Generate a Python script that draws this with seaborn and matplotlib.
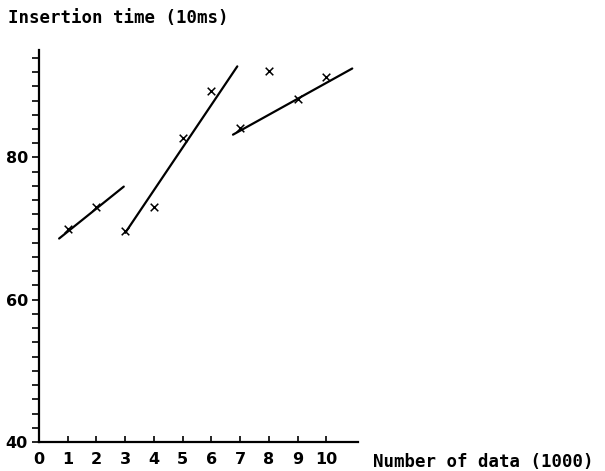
import matplotlib
matplotlib.use("Agg")
import matplotlib.pyplot as plt
import seaborn as sns
import pandas as pd
import numpy as np

# data
n_data = [1, 2, 3, 4, 5, 6, 7, 8, 9, 10]
insert_time = [70.0, 73.1, 69.7, 73.1, 82.8, 89.3, 84.1, 92.1, 88.2, 91.3]

# fitted line segments (start/end)
seg_x0 = [0.7, 3.0, 6.75]
seg_x1 = [2.95, 6.9, 10.9]
seg_y0 = [68.6, 69.4, 83.2]
seg_y1 = [75.9, 92.8, 92.5]

x_ticks = list(range(0, 11))
y_major = [40, 60, 80]

sns.set_style("white")
plt.rcParams['font.family'] = ['DejaVu Sans Mono', 'DejaVu Sans']
plt.rcParams['text.color'] = 'black'
plt.rcParams['xtick.color'] = 'black'
plt.rcParams['ytick.color'] = 'black'

fig = plt.figure(figsize=(6.05, 4.71), dpi=100)
ax = fig.add_axes([39/605, 29/471, (358-39)/605, (442-50)/471])

pts = pd.DataFrame({"x": n_data, "y": insert_time})
sns.scatterplot(data=pts, x="x", y="y", marker="x", color="black", s=30,
                linewidth=1.1, ax=ax, zorder=3)

for i in range(len(seg_x0)):
    seg = pd.DataFrame({"x": [seg_x0[i], seg_x1[i]], "y": [seg_y0[i], seg_y1[i]]})
    sns.lineplot(data=seg, x="x", y="y", color="black", linewidth=1.6, ax=ax,
                 estimator=None, sort=False)

ax.set_xlim(0, 11.1)
ax.set_ylim(40, 95.1)
ax.set_xlabel("")
ax.set_ylabel("")

for s in ["top", "right"]:
    ax.spines[s].set_visible(False)
for s in ["left", "bottom"]:
    ax.spines[s].set_color("black")
    ax.spines[s].set_linewidth(1.6)

ax.set_xticks(x_ticks)
ax.set_xticklabels([str(t) for t in x_ticks], fontsize=11.5, fontweight="bold",
                   family="DejaVu Sans")
ax.set_yticks(y_major)
ax.set_yticklabels([str(t) for t in y_major], fontsize=11.5, fontweight="bold",
                   family="DejaVu Sans")
ax.set_yticks(np.arange(40, 95, 2), minor=True)
ax.tick_params(axis="x", which="both", bottom=True, direction="in", length=4,
               width=1.2, pad=7, colors="black")
ax.tick_params(axis="y", which="both", left=True, direction="out", length=5,
               width=1.2, pad=3, colors="black")

fig.text(8/605, 1 - 18/471, "Insertion time (10ms)", fontsize=12.5,
         fontweight="bold", ha="left", va="center", color="black")
fig.text(373/605, 1 - 462/471, "Number of data (1000)", fontsize=12.5,
         fontweight="bold", ha="left", va="center", color="black")

fig.savefig("out.png", dpi=100, facecolor="white")
